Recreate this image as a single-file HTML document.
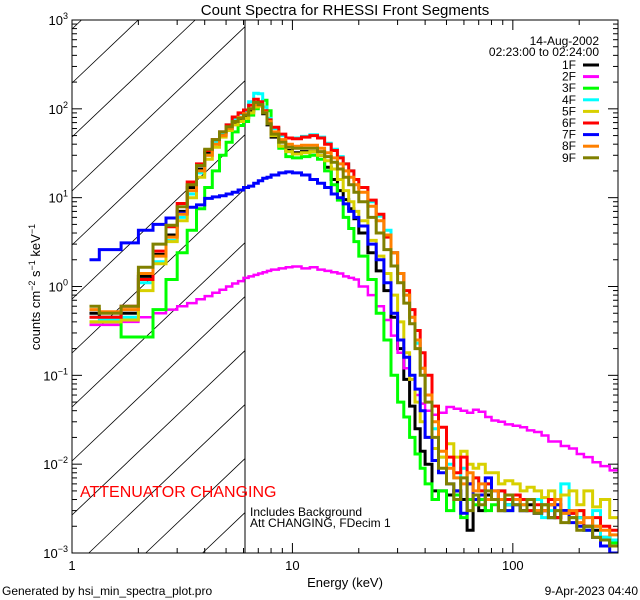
<!DOCTYPE html>
<html><head><meta charset="utf-8"><style>
html,body{margin:0;padding:0;background:#fff;width:640px;height:600px;overflow:hidden;}
svg{display:block;font-family:"Liberation Sans",sans-serif;}
</style></head><body>
<svg id="chart" width="640" height="600" viewBox="0 0 640 600">
<defs><clipPath id="plotclip"><rect x="72" y="20" width="546" height="533"/></clipPath></defs>
<text x="345" y="15" text-anchor="middle" font-size="15">Count Spectra for RHESSI Front Segments</text>
<g id="hatch"></g>
<line x1="245" y1="20" x2="245" y2="553" stroke="#000" stroke-width="1"/>
<g id="series" clip-path="url(#plotclip)"></g>
<rect x="72" y="20" width="546" height="533" fill="none" stroke="#000" stroke-width="1"/>
<g id="axes"></g>
<text transform="translate(40,287) rotate(-90)" text-anchor="middle" font-size="13">counts cm<tspan dy="-5" font-size="9">−2</tspan><tspan dy="5"> s</tspan><tspan dy="-5" font-size="9">−1</tspan><tspan dy="5"> keV</tspan><tspan dy="-5" font-size="9">−1</tspan></text>
<text x="345" y="587" text-anchor="middle" font-size="13">Energy (keV)</text>
<text x="2" y="595" font-size="12">Generated by hsi_min_spectra_plot.pro</text>
<text x="638" y="595" text-anchor="end" font-size="12">9-Apr-2023 04:40</text>
<text x="599" y="45" text-anchor="end" font-size="12">14-Aug-2002</text>
<text x="599" y="56" text-anchor="end" font-size="12">02:23:00 to 02:24:00</text>
<g id="legend"></g>
<text x="80" y="497" font-size="16" fill="#f00">ATTENUATOR CHANGING</text>
<text x="250" y="516" font-size="12">Includes Background</text>
<text x="250" y="527" font-size="12">Att CHANGING, FDecim 1</text>
</svg>
<script>
const edges=[1.2,1.33,1.67,2.0,2.33,2.67,3.0,3.33,3.67,4.0,4.33,4.67,5.0,5.33,5.67,6.0,6.33,6.67,7.0,7.33,7.67,8.0,8.67,9.33,10,11,12,13,14,15,16,17,18,19,20,22,24,26,28,30,32,34,36,38,40,43,46,50,54,58,62,66,70,75,80,86,92,100,108,116,125,135,145,155,165,180,195,210,230,250,275,300];
const seriesNames=["1F","2F","3F","4F","5F","6F","7F","8F","9F"];
const seriesColors=["#000000","#ff00ff","#00ff00","#00ffff","#d8d000","#ff0000","#0000ff","#ff8000","#808000"];
const s1F=[0.5,0.45,0.5,1.3,2.3,3.8,7,13,21,32,42,52,60,68,74,80,95,110,108,88,66,48,38,34,32,33,33,30,22,16,12,9.5,7.5,5.8,4,2.4,1.5,0.9,0.45,0.2,0.09,0.045,0.025,0.014,0.01,0.005,0.005,0.0045,0.005,0.004,0.0018,0.004,0.003,0.0045,0.004,0.003,0.0035,0.004,0.003,0.0035,0.0028,0.003,0.0035,0.0025,0.003,0.0028,0.0025,0.002,0.0018,0.0015,0.0012];
const s2F=[0.37,0.37,0.4,0.45,0.5,0.55,0.6,0.65,0.72,0.78,0.85,0.92,1.0,1.08,1.15,1.25,1.3,1.35,1.4,1.45,1.5,1.55,1.6,1.65,1.68,1.6,1.65,1.55,1.5,1.45,1.4,1.3,1.25,1.2,1.0,0.8,0.6,0.42,0.28,0.18,0.12,0.09,0.06,0.048,0.04,0.036,0.038,0.044,0.042,0.04,0.038,0.041,0.039,0.034,0.031,0.03,0.028,0.027,0.026,0.024,0.023,0.021,0.018,0.018,0.016,0.015,0.013,0.012,0.0105,0.0095,0.0085];
const s3F=[0.4,0.4,0.27,0.27,0.55,1.2,2.4,4.3,7.5,13,20,30,42,55,65,72,85,100,115,125,95,60,36,29,28,29,30,27,20,14,9.4,6,4.5,3.2,2.2,1.2,0.5,0.25,0.1,0.05,0.034,0.02,0.013,0.009,0.006,0.004,0.005,0.003,0.0045,0.0025,0.004,0.0035,0.004,0.003,0.0035,0.004,0.003,0.004,0.0035,0.003,0.003,0.0035,0.0025,0.003,0.0028,0.0025,0.003,0.0018,0.002,0.0015,0.0013];
const s4F=[0.45,0.42,0.45,1.1,1.9,3.3,6,11,19,30,42,54,66,78,88,95,120,150,148,105,78,60,50,47,47,49,51,48,41,35,29,24,20,16,13,9,6.2,4.3,2.4,1.4,0.8,0.45,0.23,0.12,0.06,0.025,0.012,0.01,0.007,0.009,0.006,0.007,0.005,0.006,0.004,0.005,0.0035,0.004,0.0035,0.003,0.004,0.0025,0.003,0.0035,0.006,0.003,0.0025,0.002,0.003,0.0015,0.0014];
const s5F=[0.4,0.4,0.42,0.9,1.8,3.2,5.5,10,17,27,37,48,57,66,72,78,90,105,108,92,70,50,38,33,31,32,33,30,26,21,16,12,9,7,5.5,3.3,2.2,1.4,0.8,0.4,0.18,0.09,0.05,0.03,0.02,0.015,0.012,0.017,0.012,0.014,0.01,0.009,0.01,0.008,0.008,0.006,0.0065,0.006,0.005,0.0055,0.005,0.0042,0.005,0.004,0.0045,0.005,0.0035,0.005,0.0033,0.004,0.0025];
const s6F=[0.45,0.45,0.6,1.2,2.5,4.7,8.6,15,24,34,45,55,66,81,90,97,110,128,120,95,75,62,52,47,46,48,50,47,40,34,28,24,20,16,13,9.4,6.5,3.6,2.4,1.4,0.9,0.55,0.32,0.18,0.1,0.045,0.026,0.012,0.008,0.012,0.006,0.007,0.005,0.006,0.004,0.005,0.004,0.0045,0.004,0.003,0.0035,0.003,0.004,0.0025,0.003,0.0028,0.003,0.002,0.0025,0.002,0.0018];
const s7F=[2.0,2.6,3.1,4.3,5.0,5.9,6.7,7.8,8.3,9.8,10.2,10.5,11,11.5,12.2,13,13.5,14.5,15.5,16.5,17,18,19,19.5,19,18,16,14.5,13,11,10,8.5,7,6,4.8,3,2,1.1,0.5,0.25,0.16,0.1,0.07,0.04,0.02,0.011,0.008,0.006,0.005,0.0028,0.006,0.004,0.0045,0.007,0.005,0.004,0.003,0.0035,0.003,0.004,0.0028,0.003,0.0025,0.0035,0.003,0.0022,0.002,0.0018,0.0015,0.0012,0.001];
const s8F=[0.55,0.52,0.55,1.4,2.2,3.6,6.5,12,20,30,40,50,60,72,80,88,100,112,110,92,72,55,45,40,38,39,39,36,32,28,24,20,17,14,11.5,8,5.5,3.8,2.4,1.4,0.8,0.45,0.25,0.12,0.06,0.03,0.014,0.009,0.007,0.006,0.008,0.005,0.006,0.004,0.005,0.004,0.0045,0.004,0.0035,0.004,0.003,0.003,0.0035,0.004,0.0028,0.003,0.0022,0.0025,0.002,0.0018,0.0016];
const s9F=[0.6,0.5,0.6,1.65,3.0,4.9,7.9,14,23,35,45,55,63,72,78,85,100,118,112,90,68,52,42,37,36,36,36,33,29,25,21,17,14,11.5,9,6,4,2.6,1.7,1.1,0.65,0.38,0.2,0.1,0.05,0.02,0.009,0.006,0.004,0.007,0.003,0.0045,0.0035,0.005,0.004,0.003,0.0045,0.0035,0.003,0.004,0.0028,0.0035,0.0025,0.003,0.0022,0.0025,0.0018,0.002,0.0015,0.0014,0.0012];
const seriesData=[s1F,s2F,s3F,s4F,s5F,s6F,s7F,s8F,s9F];
const xTickMajor=[1,10,100];
const xTickLabels=["1","10","100"];
const yTickExp=[-3,-2,-1,0,1,2,3];

const X0=72,X1=618,Y0=553,Y1=20;
const XMIN=1,XMAX=300,YMIN=1e-3,YMAX=1e3;
function xs(e){return X0+(Math.log10(e)-Math.log10(XMIN))/(Math.log10(XMAX)-Math.log10(XMIN))*(X1-X0);}
function ys(v){return Y0-(Math.log10(v)-Math.log10(YMIN))/(Math.log10(YMAX)-Math.log10(YMIN))*(Y0-Y1);}
const NS="http://www.w3.org/2000/svg";
function mk(tag,attrs,parent){const el=document.createElementNS(NS,tag);for(const k in attrs)el.setAttribute(k,attrs[k]);parent.appendChild(el);return el;}

// hatch lines clipped analytically to box x 72..245, y 20..553
const hg=document.getElementById('hatch');
const HS=0.95;
for(let k=-4;k<12;k++){
  const y0=83+54*k;
  // y = y0 - HS*(x-72)
  let xa=72,xb=245;
  // y<=553 => x >= 72+(y0-553)/HS
  xa=Math.max(xa,72+(y0-553)/HS);
  // y>=20 => x <= 72+(y0-20)/HS
  xb=Math.min(xb,72+(y0-20)/HS);
  if(xb<=xa)continue;
  const ln=mk('line',{x1:xa.toFixed(1),y1:(y0-HS*(xa-72)).toFixed(1),x2:xb.toFixed(1),y2:(y0-HS*(xb-72)).toFixed(1),stroke:'#000','stroke-width':0.8},hg);
  
  
}

const sg=document.getElementById('series');
seriesData.forEach((vals,si)=>{
  let d='';
  for(let i=0;i<vals.length;i++){
    const xa=xs(edges[i]).toFixed(1),xb=xs(Math.min(edges[i+1],XMAX)).toFixed(1),y=ys(Math.max(vals[i],YMIN)).toFixed(1);
    d+=(i===0?'M':'L')+xa+','+y+'L'+xb+','+y;
  }
  const p=mk('path',{d:d,fill:'none',stroke:seriesColors[si],'stroke-width':si===1?2.5:3,'stroke-linejoin':'miter'},sg);
  
  
});

const ag=document.getElementById('axes');
for(let dec=0;dec<3;dec++){
  for(let m=1;m<10;m++){
    const e=Math.pow(10,dec)*m;
    if(e>XMAX)break;
    const x=xs(e),L=(m===1)?10:5;
    const t1=mk('line',{x1:x,y1:Y0,x2:x,y2:Y0-L,stroke:'#000'},ag);
    
    
    const t2=mk('line',{x1:x,y1:Y1,x2:x,y2:Y1+L,stroke:'#000'},ag);
    
    
  }
}
xTickMajor.forEach((e,i)=>{
  const t=mk('text',{x:xs(e),y:Y0+17,'text-anchor':'middle','font-size':13},ag);
  t.textContent=xTickLabels[i];
  
  
});
yTickExp.forEach(ex=>{
  for(let m=1;m<10;m++){
    if(ex===3&&m>1)break;
    const v=Math.pow(10,ex)*m,y=ys(v),L=(m===1)?10:5;
    const t1=mk('line',{x1:X0,y1:y,x2:X0+L,y2:y,stroke:'#000'},ag);
    
    
    const t2=mk('line',{x1:X1,y1:y,x2:X1-L,y2:y,stroke:'#000'},ag);
    
    
  }
  const t=mk('text',{x:X0-4,y:ys(Math.pow(10,ex))+5,'text-anchor':'end','font-size':13},ag);
  
  
  const b=mk('tspan',{},t);b.textContent='10';
  const s=mk('tspan',{dy:-6,'font-size':9},t);s.textContent=ex<0?('−'+(-ex)):String(ex);
});

const lg=document.getElementById('legend');
seriesNames.forEach((n,i)=>{
  const y=65+11.6*i;
  const t=mk('text',{x:576,y:y+4,'text-anchor':'end','font-size':12},lg);
  t.textContent=n;
  
  
  const l=mk('line',{x1:583,y1:y,x2:599,y2:y,stroke:seriesColors[i],'stroke-width':3},lg);
  
  
});
</script>
</body></html>
